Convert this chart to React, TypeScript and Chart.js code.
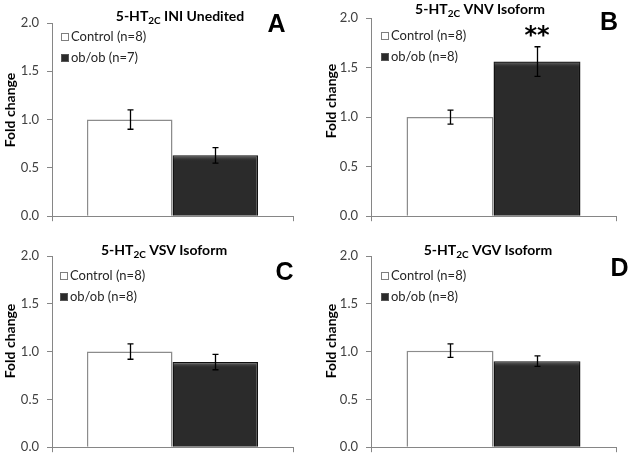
import React, { useEffect, useRef } from "react";
import { Chart, registerables } from "chart.js";

Chart.register(...registerables);

// ---- data ----
const panelLetters = ["A", "B", "C", "D"];
const panelTitleTails = ["INI Unedited", "VNV Isoform", "VSV Isoform", "VGV Isoform"];
const controlMeans = [1.0, 1.0, 1.0, 1.01];
const controlErrors = [0.1, 0.07, 0.08, 0.07];
const obobMeans = [0.63, 1.56, 0.89, 0.9];
const obobErrors = [0.08, 0.15, 0.08, 0.055];
const controlN = [8, 8, 8, 8];
const obobN = [7, 8, 8, 8];
const significance = ["", "**", "", ""];
const yTicks = [0, 0.5, 1.0, 1.5, 2.0];
const yAxisTitle = "Fold change";

// ---- layout (canvas-relative) ----
const frames = [
  { x: 0, y: 0, w: 314, h: 232, left: 52, right: 293, top: 23, bottom: 223,
    title: [180, 16], letter: [276.5, 32], yTitle: [10, 110], legend: [61, 37] },
  { x: 314, y: 0, w: 314, h: 232, left: 57, right: 302, top: 18, bottom: 219,
    title: [166, 9], letter: [295, 30], yTitle: [17, 101], legend: [67, 36] },
  { x: 0, y: 232, w: 314, h: 231, left: 52, right: 293, top: 24, bottom: 224,
    title: [164, 17.5], letter: [284.5, 48], yTitle: [10, 109], legend: [60, 44] },
  { x: 314, y: 232, w: 314, h: 231, left: 57, right: 302, top: 24, bottom: 223,
    title: [174, 18], letter: [305.5, 44], yTitle: [17, 109], legend: [67, 44] },
];

const FONT = "Lato, 'Open Sans', sans-serif";
const AXIS_COLOR = "#868686";
const WHITE_FILL = "#ffffff";
const WHITE_BORDER = "#8c8c8c";
const DARK_FILL = "#2b2b2b";
const DARK_BORDER = "#111111";

function Panel({ i }: { i: number }) {
  const ref = useRef<HTMLCanvasElement | null>(null);
  useEffect(() => {
    const f = frames[i];
    const errors = [controlErrors[i], obobErrors[i]];
    const means = [controlMeans[i], obobMeans[i]];
    const decor = {
      id: "decor" + i,
      afterDatasetsDraw(chart: any) {
        const ctx = chart.ctx as CanvasRenderingContext2D;
        const ys = chart.scales.y;
        ctx.save();
        // dark bar top highlight (bevel look)
        {
          const bar = chart.getDatasetMeta(1).data[0];
          const w = bar.width;
          const g = ctx.createLinearGradient(0, bar.y, 0, bar.y + 6);
          g.addColorStop(0, "rgba(140,140,140,0.8)");
          g.addColorStop(1, "rgba(43,43,43,0)");
          ctx.fillStyle = g;
          ctx.fillRect(bar.x - w / 2 + 1, bar.y + 1, w - 2, 6);
        }
        // error bars
        ctx.strokeStyle = "#000";
        ctx.lineWidth = 1.3;
        for (let d = 0; d < 2; d++) {
          const bar = chart.getDatasetMeta(d).data[0];
          const x = Math.round(bar.x) + 0.5;
          const t = ys.getPixelForValue(means[d] + errors[d]);
          const b = ys.getPixelForValue(means[d] - errors[d]);
          ctx.beginPath();
          ctx.moveTo(x, t);
          ctx.lineTo(x, b);
          ctx.moveTo(x - 3, t);
          ctx.lineTo(x + 3, t);
          ctx.moveTo(x - 3, b);
          ctx.lineTo(x + 3, b);
          ctx.stroke();
        }
        // significance
        if (significance[i]) {
          const bar = chart.getDatasetMeta(1).data[0];
          const t = ys.getPixelForValue(means[1] + errors[1]);
          ctx.fillStyle = "#000";
          ctx.font = `bold 24px 'DejaVu Sans', sans-serif`;
          ctx.textAlign = "center";
          ctx.textBaseline = "alphabetic";
          ctx.fillText(significance[i], bar.x, t - 4);
        }
        // title with subscript
        const main1 = "5-HT";
        const sub = "2C";
        const main2 = " " + panelTitleTails[i];
        ctx.fillStyle = "#000";
        ctx.textBaseline = "alphabetic";
        ctx.textAlign = "left";
        const mainFont = `bold 14px ${FONT}`;
        const subFont = `bold 10px ${FONT}`;
        ctx.font = mainFont;
        const w1 = ctx.measureText(main1).width;
        const w3 = ctx.measureText(main2).width;
        ctx.font = subFont;
        const w2 = ctx.measureText(sub).width;
        const total = w1 + w2 + w3;
        let tx = f.title[0] - total / 2;
        const base = f.title[1] + 5;
        ctx.font = mainFont;
        ctx.fillText(main1, tx, base);
        tx += w1;
        ctx.font = subFont;
        ctx.fillText(sub, tx, base + 3);
        tx += w2;
        ctx.font = mainFont;
        ctx.fillText(main2, tx, base);
        // panel letter
        ctx.font = `bold 25px 'Liberation Sans', Arial, sans-serif`;
        ctx.textAlign = "center";
        ctx.fillText(panelLetters[i], f.letter[0], f.letter[1]);
        // y title
        ctx.save();
        ctx.translate(f.yTitle[0], f.yTitle[1]);
        ctx.rotate(-Math.PI / 2);
        ctx.font = `bold 14px ${FONT}`;
        ctx.textAlign = "center";
        ctx.textBaseline = "middle";
        ctx.fillText(yAxisTitle, 0, 0);
        ctx.restore();
        // legend
        const dsets = chart.data.datasets;
        for (let d = 0; d < dsets.length; d++) {
          const lx = f.legend[0];
          const ly = f.legend[1] + d * 21;
          ctx.fillStyle = dsets[d].backgroundColor;
          ctx.fillRect(lx, ly - 4, 8, 8);
          ctx.strokeStyle = d === 0 ? "#7f7f7f" : "#555";
          ctx.lineWidth = 1;
          ctx.strokeRect(lx + 0.5, ly - 3.5, 7, 7);
          ctx.fillStyle = "#262626";
          ctx.font = `13px ${FONT}`;
          ctx.textAlign = "left";
          ctx.textBaseline = "middle";
          ctx.fillText(dsets[d].label, lx + 10, ly);
        }
        ctx.restore();
      },
    };
    const chart = new Chart(ref.current as HTMLCanvasElement, {
      type: "bar",
      data: {
        labels: [""],
        datasets: [
          {
            label: `Control (n=${controlN[i]})`,
            data: [controlMeans[i]],
            backgroundColor: WHITE_FILL,
            borderColor: WHITE_BORDER,
            borderWidth: 1.5,
          },
          {
            label: `ob/ob (n=${obobN[i]})`,
            data: [obobMeans[i]],
            backgroundColor: DARK_FILL,
            borderColor: DARK_BORDER,
            borderWidth: 1.5,
          },
        ],
      },
      options: {
        responsive: false,
        animation: false,
        events: [],
        layout: { padding: { left: 0, top: f.top, right: f.w - f.right, bottom: 0 } },
        datasets: { bar: { categoryPercentage: 0.71, barPercentage: 1.0 } },
        plugins: { legend: { display: false }, tooltip: { enabled: false }, title: { display: false } },
        scales: {
          x: {
            offset: true,
            ticks: { display: false },
            grid: { offset: true, drawOnChartArea: false, drawTicks: true, tickLength: 5, color: AXIS_COLOR },
            border: { color: AXIS_COLOR, width: 1 },
            afterFit: (s: any) => { s.height = f.h - f.bottom; },
          },
          y: {
            min: 0,
            max: 2,
            afterBuildTicks: (s: any) => { s.ticks = yTicks.map((v) => ({ value: v })); },
            ticks: {
              padding: 8,
              color: "#404040",
              font: { family: FONT, size: 13 },
              callback: (v: any) => Number(v).toFixed(1),
            },
            grid: { drawOnChartArea: false, drawTicks: true, tickLength: 5, color: AXIS_COLOR },
            border: { color: AXIS_COLOR, width: 1 },
            afterFit: (s: any) => { s.width = f.left; },
          },
        },
      },
      plugins: [decor],
    });
    return () => chart.destroy();
  }, [i]);
  const f = frames[i];
  return (
    <canvas
      ref={ref}
      width={f.w}
      height={f.h}
      style={{ position: "absolute", left: f.x, top: f.y, width: f.w, height: f.h }}
    />
  );
}

export default function App() {
  return (
    <div style={{ position: "absolute", left: 0, top: 0, width: 628, height: 463, background: "#fff", overflow: "hidden" }}>
      {frames.map((_, i) => (
        <Panel key={i} i={i} />
      ))}
    </div>
  );
}
